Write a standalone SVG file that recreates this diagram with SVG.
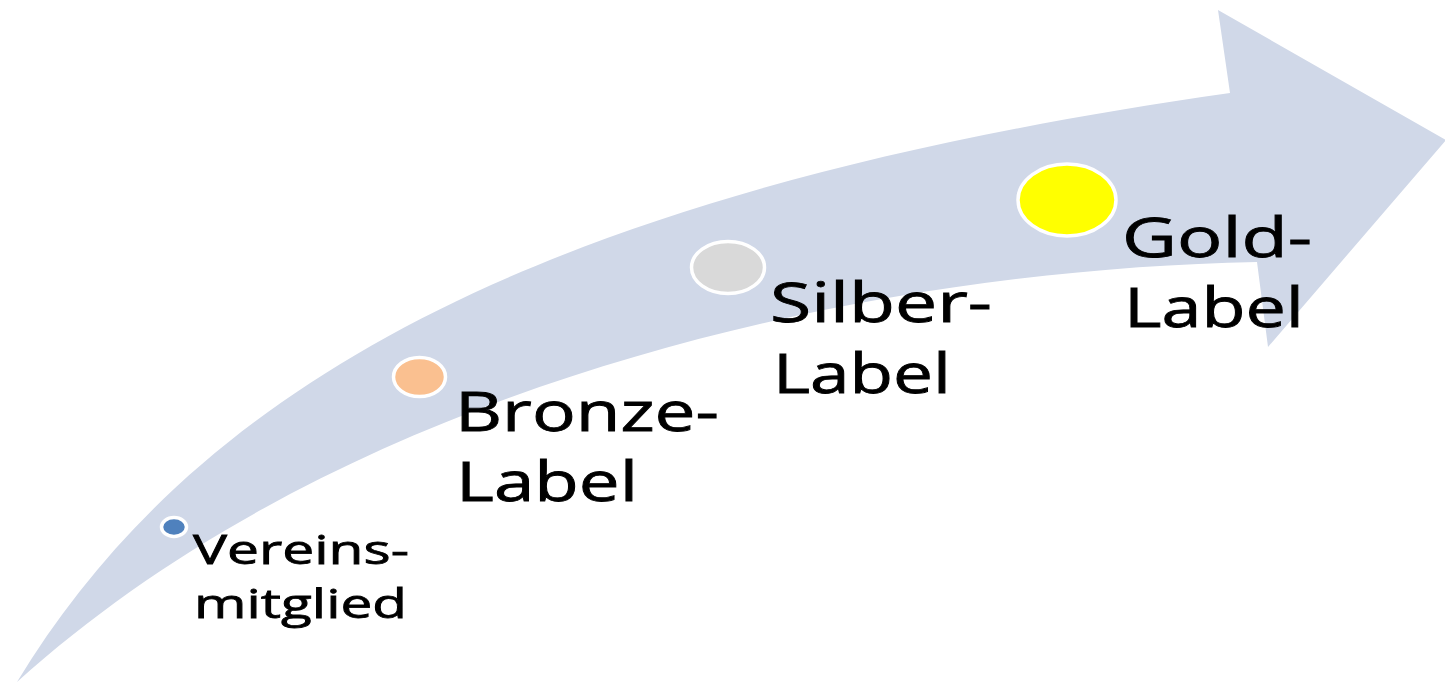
<svg xmlns="http://www.w3.org/2000/svg" width="1445" height="683" viewBox="0 0 1445 683">
  <style>
    .band { fill: #d0d8e8; }
    .dot { stroke: #ffffff; stroke-width: 3.5; }
    .lbl { font-family: "Open Sans", "Noto Sans", sans-serif; fill: #000000; stroke: #000000; stroke-width: 0.8; }
    .small { font-size: 41px; }
    .big { font-size: 55px; }
  </style>
  <rect width="1445" height="683" fill="#ffffff"/>

  <!-- curved progress arrow -->
  <g id="connectors">
    <path class="band" d="M 17 682 C 200 380, 550 190, 1230 93 L 1218 10 L 1446 140 L 1268 347 L 1257 262 C 850 270, 340 390, 17 682 Z"/>
  </g>

  <g id="vereinsmitglied">
    <ellipse class="dot" cx="174" cy="527" rx="12.5" ry="9.5" fill="#4f81bd"/>
    <text class="lbl small" x="193" y="564" textLength="216" lengthAdjust="spacingAndGlyphs">Vereins-</text>
    <text class="lbl small" x="194" y="618" textLength="213" lengthAdjust="spacingAndGlyphs">mitglied</text>
  </g>

  <g id="bronze">
    <ellipse class="dot" cx="419.5" cy="377" rx="26" ry="19.5" fill="#fac090"/>
    <text class="lbl big" x="455" y="431" textLength="264" lengthAdjust="spacingAndGlyphs">Bronze-</text>
    <text class="lbl big" x="456" y="501" textLength="182" lengthAdjust="spacingAndGlyphs">Label</text>
  </g>

  <g id="silber">
    <ellipse class="dot" cx="728" cy="267.5" rx="36.5" ry="26" fill="#d9d9d9"/>
    <text class="lbl big" x="770" y="322" textLength="222" lengthAdjust="spacingAndGlyphs">Silber-</text>
    <text class="lbl big" x="773" y="393" textLength="178" lengthAdjust="spacingAndGlyphs">Label</text>
  </g>

  <g id="gold">
    <ellipse class="dot" cx="1067" cy="200" rx="49" ry="36" fill="#ffff00"/>
    <text class="lbl big" x="1122" y="257" textLength="190" lengthAdjust="spacingAndGlyphs">Gold-</text>
    <text class="lbl big" x="1124" y="327" textLength="180" lengthAdjust="spacingAndGlyphs">Label</text>
  </g>
</svg>
